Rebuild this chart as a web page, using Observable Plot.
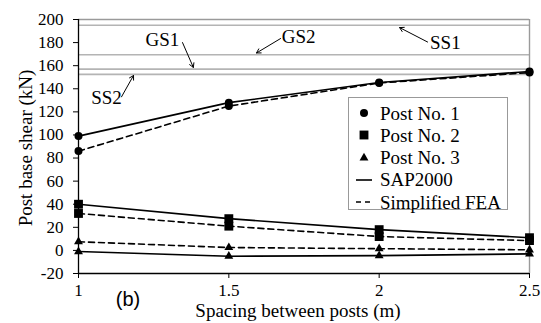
<!DOCTYPE html>
<html>
<head>
<meta charset="utf-8">
<script src="https://cdn.jsdelivr.net/npm/d3@7"></script>
<script src="https://cdn.jsdelivr.net/npm/@observablehq/plot@0.6"></script>
<style>
  body { margin: 0; background: white; }
  #wrap { position: relative; width: 541px; height: 323px; font-family: "Liberation Serif", "DejaVu Serif", "Times New Roman", Times, serif; color: black; }
  #wrap svg text { font-family: "Liberation Serif", "DejaVu Serif", "Times New Roman", Times, serif; }
  .ov { position: absolute; white-space: nowrap; line-height: 1; }
  #ytitle { left: 25px; top: 148px; font-size: 19px; transform: translate(-50%, -50%) rotate(-90deg); }
  #xtitle { left: 298px; top: 300.5px; font-size: 19px; line-height: 19px; transform: translate(-50%, 0); }
  #tag { left: 128px; top: 299px; font-size: 20px; font-family: "Liberation Sans", Arial, sans-serif; transform: translate(-50%, -50%); }
  #legend { left: 348px; top: 97px; width: 160px; height: 113px; border: 1px solid #999; background: white; box-sizing: border-box; }
  .item { position: absolute; left: 0; height: 22px; font-size: 19px; display: flex; align-items: center; }
  .item svg { width: 24px; height: 22px; margin-left: 5px; margin-right: 2px; }
</style>
</head>
<body>
<div id="wrap"></div>
<script>
// ---- data ----
const spacing = [1, 1.5, 2, 2.5];
const post1SAP = [99, 128, 145.5, 155];
const post1FEA = [86, 125, 145, 154];
const post2SAP = [40, 27.5, 18, 11];
const post2FEA = [32, 21, 12, 8.5];
const post3SAP = [-1, -5, -4.5, -3];
const post3FEA = [7.5, 2.5, 1.5, 0.5];

const refNames = ["SS1", "GS2", "GS1", "SS2"];
const refValues = [195, 169.5, 157, 152.5];
// annotation label anchors (data units) and arrow ends (data units)
const labelX = [2.22, 1.732, 1.279, 1.093];
const labelY = [179.5, 184.5, 182.5, 132.5];
const arrowX1 = [2.161, 1.672, 1.346, 1.143];
const arrowY1 = [180.5, 183.5, 180, 133];
const arrowX2 = [2.068, 1.592, 1.382, 1.183];
const arrowY2 = [193, 171, 158.5, 151.5];

const yTicks = [-20, 0, 20, 40, 60, 80, 100, 120, 140, 160, 180, 200];
const xTicks = [1, 1.5, 2, 2.5];

const postNames = ["Post No. 1", "Post No. 2", "Post No. 3"];
const methodNames = ["SAP2000", "Simplified FEA"];
const symbols = ["circle", "square", "triangle"];
const symbolR = [4, 5, 3.3];

const seriesValues = [[post1SAP, post1FEA], [post2SAP, post2FEA], [post3SAP, post3FEA]];
const rows = [];
seriesValues.forEach((pair, p) => pair.forEach((vals, m) => vals.forEach((v, i) => {
  rows.push({x: spacing[i], y: v, post: p, method: m, key: p + "-" + m});
})));
const annots = refNames.map((n, i) => ({name: n, lx: labelX[i], ly: labelY[i], x1: arrowX1[i], y1: arrowY1[i], x2: arrowX2[i], y2: arrowY2[i]}));

const serif = '"Liberation Serif", "DejaVu Serif", "Times New Roman", Times, serif';
const chart = Plot.plot({
  width: 541,
  height: 323,
  marginLeft: 78,
  marginRight: 12,
  marginTop: 19,
  marginBottom: 50,
  style: {fontFamily: serif, fontSize: "17px", color: "black", background: "white", overflow: "visible"},
  x: {domain: [1, 2.5]},
  y: {domain: [-20, 200]},
  marks: [
    Plot.ruleY(refValues, {stroke: "#b4b4b4", strokeWidth: 1.6}),
    Plot.ruleY([200], {stroke: "#9a9a9a", strokeWidth: 1.4}),
    Plot.ruleX([2.5], {stroke: "#9a9a9a", strokeWidth: 1.4}),
    Plot.ruleX([1], {stroke: "black", strokeWidth: 1.3}),
    Plot.ruleY([-20], {stroke: "black", strokeWidth: 1.3}),
    Plot.line(rows.filter(d => d.method === 0), {x: "x", y: "y", z: "key", stroke: "black", strokeWidth: 1.6}),
    Plot.line(rows.filter(d => d.method === 1), {x: "x", y: "y", z: "key", stroke: "black", strokeWidth: 1.6, strokeDasharray: "6,4"}),
    ...symbols.map((s, p) => Plot.dot(rows.filter(d => d.post === p), {x: "x", y: "y", symbol: s, r: symbolR[p], fill: "black", stroke: "none"})),
    Plot.text(annots, {x: "lx", y: "ly", text: "name", fontSize: 19, fill: "black", fontFamily: serif}),
    Plot.arrow(annots, {x1: "x1", y1: "y1", x2: "x2", y2: "y2", stroke: "black", strokeWidth: 1, headLength: 7}),
    Plot.axisY({ticks: yTicks, tickSize: 5, tickPadding: 10, tickFormat: d => String(d), label: null, fontSize: 17, fontFamily: serif}),
    Plot.axisX({ticks: xTicks, tickSize: 5, tickPadding: 5, tickFormat: d => String(d), label: null, fontSize: 17, fontFamily: serif})
  ]
});

const wrap = document.getElementById("wrap");
wrap.appendChild(chart);

function addDiv(id, text) {
  const d = document.createElement("div");
  d.className = "ov"; d.id = id; d.textContent = text;
  wrap.appendChild(d);
  return d;
}
addDiv("ytitle", "Post base shear (kN)");
addDiv("xtitle", "Spacing between posts (m)");
addDiv("tag", "(b)");

// legend
const legend = document.createElement("div");
legend.className = "ov"; legend.id = "legend";
wrap.appendChild(legend);
const ns = "http://www.w3.org/2000/svg";
const items = [
  ...postNames.map((n, p) => ({label: n, sym: symbols[p], r: symbolR[p]})),
  {label: methodNames[0], dash: null},
  {label: methodNames[1], dash: "5,4"}
];
items.forEach((it, i) => {
  const row = document.createElement("div");
  row.className = "item";
  row.style.top = (4 + i * 22.3) + "px";
  const svg = document.createElementNS(ns, "svg");
  if (it.sym) {
    const path = document.createElementNS(ns, "path");
    const type = {circle: d3.symbolCircle, square: d3.symbolSquare, triangle: d3.symbolTriangle}[it.sym];
    path.setAttribute("d", d3.symbol(type, Math.PI * it.r * it.r)());
    path.setAttribute("transform", "translate(10,11)");
    path.setAttribute("fill", "black");
    svg.appendChild(path);
  } else {
    const line = document.createElementNS(ns, "line");
    line.setAttribute("x1", 2); line.setAttribute("x2", 18);
    line.setAttribute("y1", 11); line.setAttribute("y2", 11);
    line.setAttribute("stroke", "black"); line.setAttribute("stroke-width", 1.6);
    if (it.dash) line.setAttribute("stroke-dasharray", it.dash);
    svg.appendChild(line);
  }
  row.appendChild(svg);
  const span = document.createElement("span");
  span.textContent = it.label;
  row.appendChild(span);
  legend.appendChild(row);
});
</script>
</body>
</html>
